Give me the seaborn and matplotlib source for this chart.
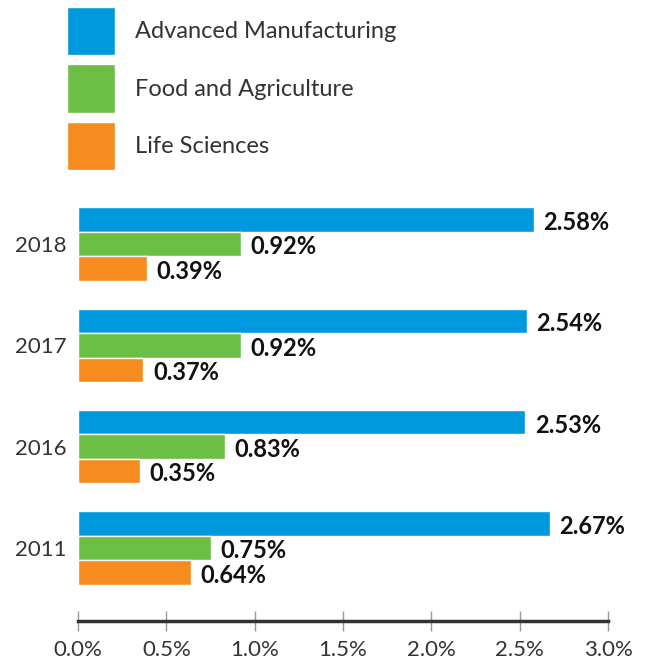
import pandas as pd
import matplotlib.pyplot as plt
import seaborn as sns

# values (share, %)
years = ["2018", "2017", "2016", "2011"]
sectors = ["Advanced Manufacturing", "Food and Agriculture", "Life Sciences"]
advanced_mfg = [2.58, 2.54, 2.53, 2.67]
food_ag = [0.92, 0.92, 0.83, 0.75]
life_sci = [0.39, 0.37, 0.35, 0.64]
x_ticks = [0.0, 0.5, 1.0, 1.5, 2.0, 2.5, 3.0]
colors = ["#0099DD", "#6CBE45", "#F68B1F"]

df = pd.DataFrame({
    "Year": years * 3,
    "Sector": [s for s in sectors for _ in years],
    "Share": advanced_mfg + food_ag + life_sci,
})

sns.set_style("white")
plt.rcParams["font.family"] = ["Lato", "DejaVu Sans"]

fig = plt.figure(figsize=(6.52, 6.64), dpi=100)
ax = fig.add_axes([78 / 652, 43 / 664, 530 / 652, 427.6 / 664])

sns.barplot(data=df, x="Share", y="Year", hue="Sector", order=years,
            hue_order=sectors, palette=colors, width=0.725, saturation=1,
            orient="h", ax=ax)

ax.set_xlim(0, 3.0)
ax.set_ylim(3.72, -0.5)
ax.set_xticks(x_ticks)
ax.set_xticklabels([f"{t:.1f}%" for t in x_ticks])
ax.set_xlabel("")
ax.set_ylabel("")

# value labels
for cont in ax.containers:
    anns = ax.bar_label(cont, fmt="%.2f%%", padding=7, fontsize=17,
                        fontweight="bold", color="#111111")
    for a in anns:
        a.xyann = (7, -2)

sns.despine(ax=ax, left=True)
ax.spines["bottom"].set_color("#333333")
ax.spines["bottom"].set_linewidth(2.5)
ax.tick_params(axis="y", left=False, length=0, pad=8, labelsize=16,
               labelcolor="#333333")
ax.tick_params(axis="x", bottom=True, direction="inout", length=14, width=1,
               color="#999999", pad=7, labelsize=16, labelcolor="#333333")

sns.move_legend(ax, "upper left", bbox_to_anchor=(67 / 652, 1 - 7 / 664),
                bbox_transform=fig.transFigure, frameon=False, title=None,
                fontsize=17, borderpad=0, borderaxespad=0,
                handlelength=2.033, handleheight=2.754,
                labelspacing=0.40, handletextpad=0.85)
for t in ax.get_legend().get_texts():
    t.set_color("#333333")

fig.savefig("out.png", dpi=100)
